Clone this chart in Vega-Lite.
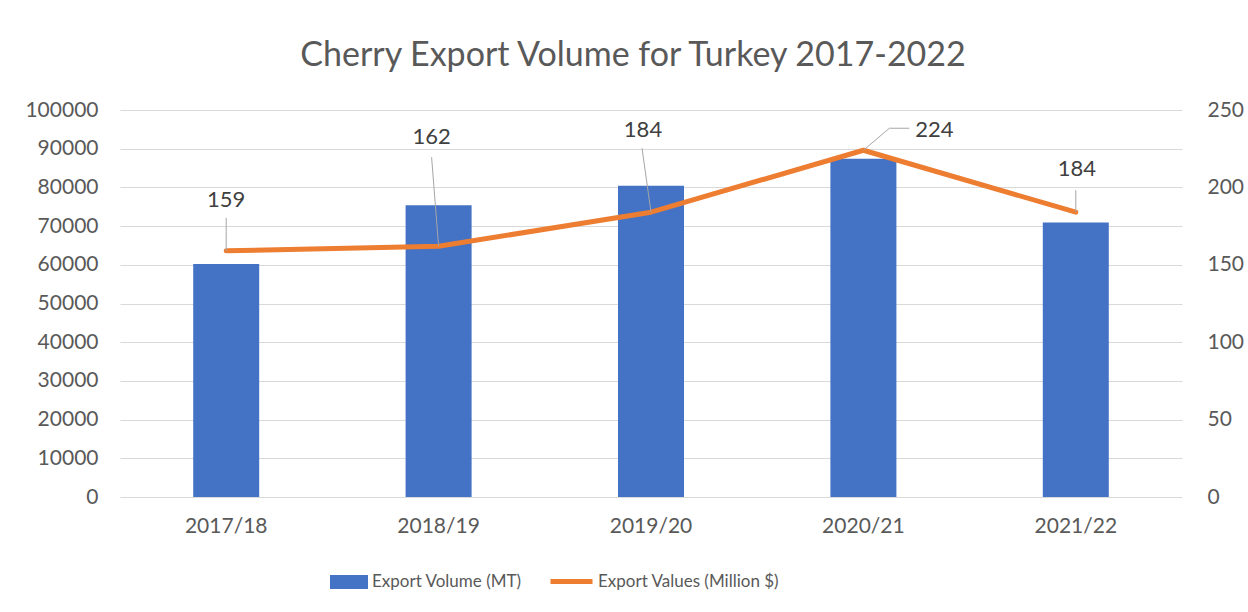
{
  "$schema": "https://vega.github.io/schema/vega-lite/v6.json",
  "autosize": {"type": "none"},
  "width": 1062,
  "height": 387,
  "padding": {"left": 120, "top": 110, "right": 66, "bottom": 115},
  "background": "white",
  "config": {
    "font": "Lato",
    "view": {"stroke": null},
    "axis": {"labelColor": "#595959", "labelFontSize": 21, "labelFont": "Lato", "gridColor": "#D9D9D9", "gridWidth": 1.2, "domain": false, "ticks": false, "title": null}
  },
  "title": {"text": "Cherry Export Volume for Turkey 2017-2022", "fontSize": 34, "fontWeight": "normal", "color": "#595959", "font": "Lato", "dx": -18, "offset": 26},
  "data": {"values": [
    {"season": "2017/18", "volume": 60200, "value": 159, "s1": "Export Volume (MT)", "s2": "Export Values (Million $)"},
    {"season": "2018/19", "volume": 75400, "value": 162, "s1": "Export Volume (MT)", "s2": "Export Values (Million $)"},
    {"season": "2019/20", "volume": 80400, "value": 184, "s1": "Export Volume (MT)", "s2": "Export Values (Million $)"},
    {"season": "2020/21", "volume": 87400, "value": 224, "s1": "Export Volume (MT)", "s2": "Export Values (Million $)"},
    {"season": "2021/22", "volume": 70900, "value": 184, "s1": "Export Volume (MT)", "s2": "Export Values (Million $)"}
  ]},
  "encoding": {
    "x": {"field": "season", "type": "nominal", "sort": null, "scale": {"paddingInner": 0, "paddingOuter": 0}, "axis": {"labelAngle": 0, "labelPadding": 18, "grid": false}}
  },
  "layer": [
    {
      "mark": {"type": "bar", "width": 66},
      "encoding": {
        "y": {"field": "volume", "type": "quantitative", "scale": {"domain": [0, 100000], "nice": false}, "axis": {"orient": "left", "values": [0,10000,20000,30000,40000,50000,60000,70000,80000,90000,100000], "format": "d", "labelPadding": 22, "grid": true}},
        "fill": {"field": "s1", "type": "nominal", "scale": {"range": ["#4472C4"]}, "legend": {"orient": "none", "legendX": 210, "legendY": 453, "title": null, "symbolType": "M-1,-0.37L1,-0.37L1,0.37L-1,0.37Z", "symbolSize": 1444, "symbolStrokeWidth": 0, "labelFontSize": 17, "labelColor": "#595959", "labelFont": "Lato", "labelOffset": 4, "labelLimit": 400, "padding": 0}}
      }
    },
    {
      "encoding": {
        "y": {"field": "value", "type": "quantitative", "scale": {"domain": [0, 250], "nice": false}, "axis": {"orient": "right", "values": [0,50,100,150,200,250], "labelPadding": 25, "grid": false}}
      },
      "layer": [
        {
          "mark": {"type": "line", "strokeWidth": 5, "strokeCap": "round", "strokeJoin": "round"},
          "encoding": {
            "stroke": {"field": "s2", "type": "nominal", "scale": {"range": ["#ED7D31"]}, "legend": {"orient": "none", "legendX": 428, "legendY": 448, "title": null, "symbolType": "stroke", "symbolSize": 1764, "symbolStrokeWidth": 5, "labelFontSize": 17, "labelColor": "#595959", "labelFont": "Lato", "labelOffset": 3, "labelLimit": 400, "padding": 0}}
          }
        },
        {
          "transform": [{"filter": "datum.season == '2017/18'"}],
          "mark": {"type": "rule", "color": "#A6A6A6", "strokeWidth": 1, "y2Offset": -33},
          "encoding": {"y2": {"field": "value"}}
        },
        {
          "transform": [{"filter": "datum.season == '2018/19'"}],
          "mark": {"type": "rule", "color": "#A6A6A6", "strokeWidth": 1, "x2Offset": -7, "y2Offset": -89},
          "encoding": {"x2": {"field": "season"}, "y2": {"field": "value"}}
        },
        {
          "transform": [{"filter": "datum.season == '2019/20'"}],
          "mark": {"type": "rule", "color": "#A6A6A6", "strokeWidth": 1, "x2Offset": -9, "y2Offset": -64},
          "encoding": {"x2": {"field": "season"}, "y2": {"field": "value"}}
        },
        {
          "transform": [{"filter": "datum.season == '2020/21'"}],
          "mark": {"type": "rule", "color": "#A6A6A6", "strokeWidth": 1, "x2Offset": 26, "y2Offset": -22},
          "encoding": {"x2": {"field": "season"}, "y2": {"field": "value"}}
        },
        {
          "transform": [{"filter": "datum.season == '2020/21'"}],
          "mark": {"type": "rule", "color": "#A6A6A6", "strokeWidth": 1, "xOffset": 26, "yOffset": -22, "x2Offset": 46, "y2Offset": -22},
          "encoding": {"x2": {"field": "season"}, "y2": {"field": "value"}}
        },
        {
          "transform": [{"filter": "datum.season == '2021/22'"}],
          "mark": {"type": "rule", "color": "#A6A6A6", "strokeWidth": 1, "y2Offset": -22},
          "encoding": {"y2": {"field": "value"}}
        },
        {
          "transform": [{"filter": "datum.season == '2017/18'"}],
          "mark": {"type": "text", "fontSize": 22, "color": "#404040", "baseline": "middle", "dy": -51},
          "encoding": {"text": {"field": "value"}}
        },
        {
          "transform": [{"filter": "datum.season == '2018/19'"}],
          "mark": {"type": "text", "fontSize": 22, "color": "#404040", "baseline": "middle", "dx": -7, "dy": -109},
          "encoding": {"text": {"field": "value"}}
        },
        {
          "transform": [{"filter": "datum.season == '2019/20'"}],
          "mark": {"type": "text", "fontSize": 22, "color": "#404040", "baseline": "middle", "dx": -8, "dy": -82},
          "encoding": {"text": {"field": "value"}}
        },
        {
          "transform": [{"filter": "datum.season == '2020/21'"}],
          "mark": {"type": "text", "fontSize": 22, "color": "#404040", "baseline": "middle", "dx": 71, "dy": -20},
          "encoding": {"text": {"field": "value"}}
        },
        {
          "transform": [{"filter": "datum.season == '2021/22'"}],
          "mark": {"type": "text", "fontSize": 22, "color": "#404040", "baseline": "middle", "dx": 1, "dy": -43},
          "encoding": {"text": {"field": "value"}}
        }
      ]
    }
  ],
  "resolve": {"scale": {"y": "independent"}}
}
